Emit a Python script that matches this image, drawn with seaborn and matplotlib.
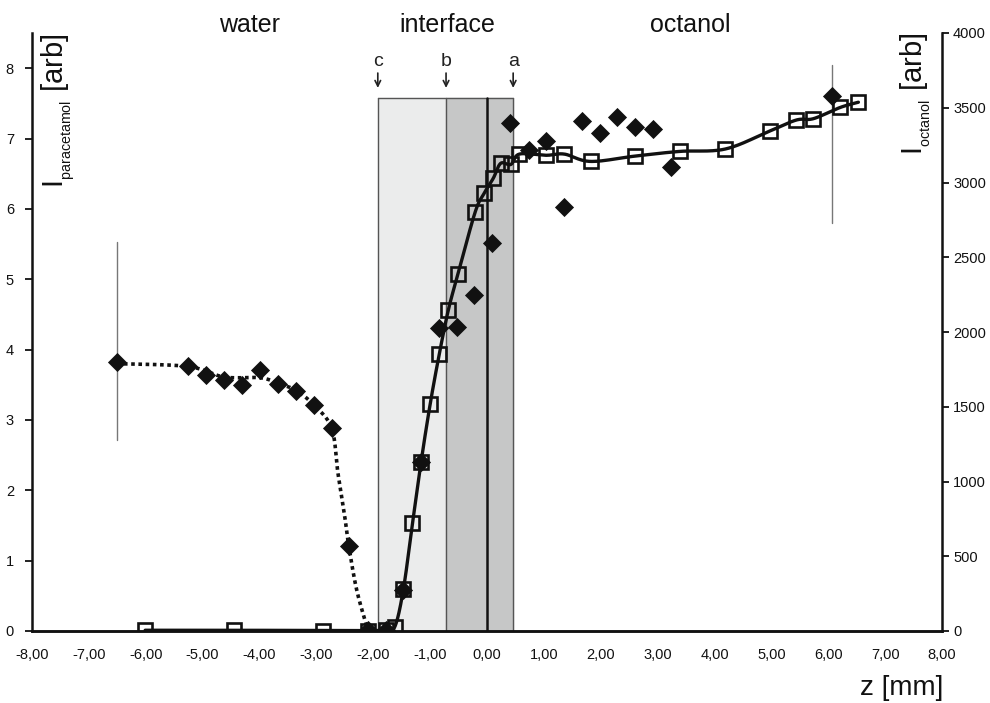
import numpy as np
import matplotlib
matplotlib.use('Agg')
import matplotlib.pyplot as plt
import seaborn as sns

# paracetamol signal (diamonds, left axis)
para_z = [-6.51, -5.26, -4.94, -4.62, -4.31, -3.99, -3.67, -3.36, -3.04, -2.73, -2.43, -2.09,
          -1.78, -1.47, -1.16, -0.85, -0.53, -0.23, 0.09, 0.41, 0.73, 1.04, 1.35, 1.67, 1.98,
          2.29, 2.61, 2.92, 3.24, 6.06]
para_i = [3.82, 3.76, 3.64, 3.57, 3.49, 3.71, 3.51, 3.41, 3.21, 2.88, 1.21, 0.01,
          0.01, 0.58, 2.40, 4.30, 4.32, 4.78, 5.52, 7.22, 6.83, 6.96, 6.03, 7.25, 7.08,
          7.31, 7.16, 7.13, 6.60, 7.60]

# dotted trend through the water side
para_fit_z = [-6.51, -5.26, -4.62, -3.99, -3.67, -3.36, -3.04, -2.73, -2.62, -2.50, -2.43, -2.29, -2.09]
para_fit_i = [3.80, 3.76, 3.61, 3.60, 3.52, 3.42, 3.21, 2.88, 2.24, 1.62, 1.21, 0.58, 0.0]

# error bars on paracetamol
err_z = [-6.51, 6.06]
err_lo = [2.71, 5.80]
err_hi = [5.53, 8.05]

# octanol signal (open squares, right axis)
oct_z = [-6.01, -4.45, -2.88, -2.09, -1.78, -1.62, -1.47, -1.31, -1.16, -1.00, -0.84, -0.68,
         -0.51, -0.21, -0.05, 0.11, 0.24, 0.42, 0.57, 1.04, 1.36, 1.82, 2.61, 3.39, 4.19,
         4.97, 5.44, 5.74, 6.21, 6.53]
oct_i = [5, 5, 3, 3, 5, 29, 279, 720, 1128, 1516, 1850, 2147,
         2388, 2800, 2928, 3028, 3128, 3121, 3190, 3182, 3190, 3141, 3177, 3208, 3224,
         3344, 3418, 3427, 3502, 3537]

# interface zones
zone_names = ['c', 'b', 'a']
zone_z = [-1.92, -0.72, 0.46]
zone_top = 7.58

x_ticks = list(range(-8, 9))
left_ticks = list(range(0, 9))
right_ticks = list(range(0, 4001, 500))


def smooth(x, y, xs, ys, n=25):
    # catmull-rom curve through the points, done in normalised units
    pts = np.column_stack([np.asarray(x) / xs, np.asarray(y) / ys])
    p = np.vstack([pts[0], pts, pts[-1]])
    t = np.linspace(0, 1, n, endpoint=False)[:, None]
    out = []
    for k in range(1, len(p) - 2):
        p0, p1, p2, p3 = p[k - 1], p[k], p[k + 1], p[k + 2]
        out.append(0.5 * (2 * p1 + (p2 - p0) * t + (2 * p0 - 5 * p1 + 4 * p2 - p3) * t ** 2
                          + (3 * p1 - p0 - 3 * p2 + p3) * t ** 3))
    out.append(pts[-1:])
    c = np.vstack(out)
    return c[:, 0] * xs, c[:, 1] * ys


sns.set_style('white')
plt.rcParams['font.family'] = ['Liberation Sans', 'DejaVu Sans']
plt.rcParams['mathtext.fontset'] = 'custom'
plt.rcParams['mathtext.rm'] = 'Liberation Sans'
plt.rcParams['mathtext.it'] = 'Liberation Sans'

fig = plt.figure(figsize=(9.9, 7.03), dpi=100)
ax = fig.add_axes([32 / 990, 72 / 703, 910 / 990, 598 / 703])
ax2 = ax.twinx()

# shaded interface bands
ax.fill_between([zone_z[0], zone_z[1]], 0, zone_top, color='#ebecec', zorder=0)
ax.fill_between([zone_z[1], zone_z[2]], 0, zone_top, color='#c6c7c7', zorder=0)
for zz in zone_z:
    ax.plot([zz, zz], [0, zone_top], color='#555555', lw=1, zorder=1)
ax.plot([zone_z[0], zone_z[2]], [zone_top, zone_top], color='#555555', lw=1, zorder=1)
ax.plot([0, 0], [0, zone_top], color='#111111', lw=1.8, zorder=1)

for name, zz in zip(zone_names, zone_z):
    ax.annotate('', xy=(zz, 7.68), xytext=(zz, 7.97),
                arrowprops=dict(arrowstyle='->', color='#222222', lw=1.2), annotation_clip=False)
    ax.text(zz, 8.1, name, ha='center', va='center', fontsize=14, color='#222222')

# error bars
for zz, lo, hi in zip(err_z, err_lo, err_hi):
    ax.plot([zz, zz], [lo, hi], color='#777777', lw=1, zorder=2)

fz, fi = smooth(para_fit_z, para_fit_i, 16, 8.5)
sns.lineplot(x=fz, y=fi, ax=ax, sort=False, estimator=None, color='#111111',
             lw=2.6, linestyle=(0, (1, 1)), zorder=3)
sns.scatterplot(x=para_z, y=para_i, ax=ax, marker='D', s=95, color='#111111',
                edgecolor='#111111', linewidth=0, zorder=4)

sz, si = smooth(oct_z, oct_i, 16, 4000)
sns.lineplot(x=sz, y=si, ax=ax2, sort=False, estimator=None, color='#111111', lw=2.4, zorder=3)
ax2.plot(oct_z, oct_i, linestyle='none', marker='s', ms=10, mfc='none', mec='#111111',
         mew=1.9, zorder=4)

ax.set_xlim(-8, 8)
ax.set_ylim(0, 8.5)
ax2.set_ylim(0, 4000)

ax.set_xticks(x_ticks)
ax.set_xticklabels([f'{v:.2f}'.replace('.', ',') for v in x_ticks], fontsize=10.5)
ax.set_yticks(left_ticks)
ax.set_yticklabels([str(v) for v in left_ticks], fontsize=10.5)
ax2.set_yticks(right_ticks)
ax2.set_yticklabels([str(v) for v in right_ticks], fontsize=10.5)

for a in (ax, ax2):
    a.spines['top'].set_visible(False)
    for s in ('left', 'right', 'bottom'):
        a.spines[s].set_color('#111111')
        a.spines[s].set_linewidth(1.8)
ax.spines['right'].set_visible(False)
ax2.spines['left'].set_visible(False)
ax.tick_params(axis='x', direction='out', length=5, width=1.3, pad=7, colors='#111111')
ax.tick_params(axis='y', direction='out', length=5, width=1.3, pad=8, colors='#111111')
ax2.tick_params(axis='y', direction='out', length=5, width=1.3, pad=3, colors='#111111')
ax.set_xlabel('')
ax.set_ylabel('')
ax2.set_ylabel('')

# region titles
fig.text(250 / 990, 1 - 25 / 703, 'water', ha='center', va='center', fontsize=18, color='#111111')
fig.text(447 / 990, 1 - 25 / 703, 'interface', ha='center', va='center', fontsize=18, color='#111111')
fig.text(690 / 990, 1 - 25 / 703, 'octanol', ha='center', va='center', fontsize=18, color='#111111')

fig.text(58 / 990, 1 - 33 / 703, r'I$_{_{\mathrm{paracetamol}}}$ [arb]', rotation=90,
         ha='center', va='top', fontsize=21, color='#111111')
fig.text(916 / 990, 1 - 33 / 703, r'I$_{_{\mathrm{octanol}}}$ [arb]', rotation=90,
         ha='center', va='top', fontsize=21, color='#111111')
fig.text(902 / 990, 1 - 688 / 703, 'z [mm]', ha='center', va='center', fontsize=20, color='#111111')

fig.savefig('out.png', dpi=100)
